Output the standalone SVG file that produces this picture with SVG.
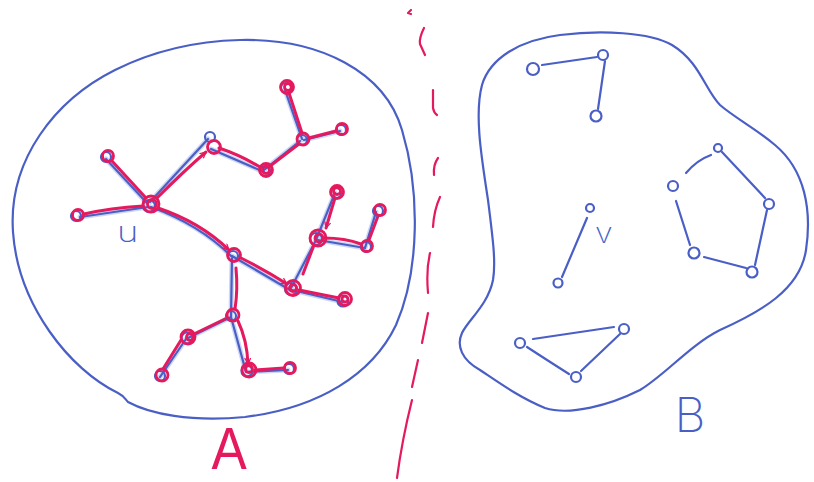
<svg xmlns="http://www.w3.org/2000/svg" width="814" height="482" viewBox="0 0 814 482">
<defs>
<style>
.outline{fill:none;stroke:#4a5fc6;stroke-width:2.2;stroke-linecap:round;stroke-linejoin:round}
.be{fill:none;stroke:#4a5fc6;stroke-width:2.2;stroke-linecap:round}
.bh{fill:none;stroke:#b9c4ee;stroke-width:5;stroke-linecap:round;opacity:.7}
.re{fill:none;stroke:#e5195e;stroke-width:3;stroke-linecap:round;stroke-linejoin:round}
.rn{fill:none;stroke:#e5195e;stroke-width:2.8}
.bn{fill:none;stroke:#4a5fc6;stroke-width:2.2}
.dash{fill:none;stroke:#e5195e;stroke-width:2.2;stroke-linecap:round;stroke-linejoin:round}
.lbl{font-family:Inter,"DejaVu Sans",sans-serif;font-weight:200;fill:#4a5fc6}
</style>
<marker id="ah" viewBox="0 0 10 10" refX="9" refY="5" markerWidth="7" markerHeight="7" orient="auto" markerUnits="userSpaceOnUse">
<path d="M1 1 L9 5 L1 9" fill="none" stroke="#e5195e" stroke-width="1.8" stroke-linecap="round"/>
</marker>
</defs>
<rect width="814" height="482" fill="#ffffff"/>

<g id="regionA">
<path class="outline" d="M240 40 C320 38 385 72 402 130 C420 190 420 270 396 325 C372 375 318 408 245 417 C190 422 150 414 128 402 C125 399 124 396 118 393 C70 370 18 305 13 232 C8 160 55 100 115 70 C155 50 200 41 240 40 Z"/>
</g>
<g id="regionB">
<path class="outline" d="M493 280 C488 305 468 320 462 333 C456 346 462 360 480 370 C498 382 520 398 545 408 C570 416 610 405 640 390 C665 375 690 345 720 330 C760 312 800 290 806 250 C812 210 805 170 775 145 C755 128 735 118 720 105 C705 90 700 62 672 45 C650 32 600 30 560 35 C520 40 490 58 482 85 C474 115 482 160 488 200 C493 240 496 262 493 280 Z"/>
</g>

<g id="connectors">
<g>
<path class="bh" d="M148 207 L80 217 M147 203 L106 159 M150 202 L208 139 M211 149 L264 172 M264 170 L300 141 M302 139 L285 90 M304 140 L340 131 M151 207 Q200 225 231 256 M232 256 L290 290 M290 290 L316 240 M316 240 L335 193 M318 240 L365 248 M365 248 L376 212 M292 290 L343 302 M232 258 L231 317 M231 317 L186 339 M186 339 L160 377 M231 317 L246 372 M246 372 L288 370"/>
<path class="be" d="M148 207 L80 217 M147 203 L106 159 M150 202 L208 139 M211 149 L264 172 M264 170 L300 141 M302 139 L285 90 M304 140 L340 131 M151 207 Q200 225 231 256 M232 256 L290 290 M290 290 L316 240 M316 240 L335 193 M318 240 L365 248 M365 248 L376 212 M292 290 L343 302 M232 258 L231 317 M231 317 L186 339 M186 339 L160 377 M231 317 L246 372 M246 372 L288 370"/>
</g>
<g>
<path class="re" d="M143 206 Q110 208 84 214"/>
<path class="re" d="M146 198 L112 161"/>
<path class="re" d="M157 198 Q185 170 206 152" marker-end="url(#ah)"/>
<path class="re" d="M219 148 Q240 155 260 167"/>
<path class="re" d="M270 166 L299 144"/>
<path class="re" d="M302 133 L289 93"/>
<path class="re" d="M309 138 L336 131"/>
<path class="re" d="M158 208 Q200 222 229 250" marker-end="url(#ah)"/>
<path class="re" d="M241 258 Q265 270 287 284" marker-end="url(#ah)"/>
<path class="re" d="M335 198 L326 228" marker-end="url(#ah)"/>
<path class="re" d="M314 245 L303 274"/>
<path class="re" d="M324 238 Q345 238 361 244"/>
<path class="re" d="M369 240 L378 216"/>
<path class="re" d="M299 290 L339 298"/>
<path class="re" d="M236 268 Q238 290 235 309"/>
<path class="re" d="M227 318 L194 334"/>
<path class="re" d="M181 340 L163 369"/>
<path class="re" d="M238 321 Q247 340 248 364" marker-end="url(#ah)"/>
<path class="re" d="M255 370 L284 368"/>
</g>
<g>
<path class="be" d="M542 65 L597 57"/>
<path class="be" d="M605 61 L598 109"/>
<path class="be" d="M587 218 L562 277"/>
<path class="be" d="M686 173 Q697 160 711 155"/>
<path class="be" d="M722 152 L765 198"/>
<path class="be" d="M767 210 L755 265"/>
<path class="be" d="M746 268 L704 257"/>
<path class="be" d="M690 245 L676 201"/>
<path class="be" d="M533 339 L614 327"/>
<path class="be" d="M527 347 Q550 362 569 374"/>
<path class="be" d="M581 371 L620 334"/>
</g>
</g>

<g id="u"><circle class="bn" cx="149" cy="206" r="6"/><circle class="rn" cx="151" cy="204" r="8"/><circle class="rn" cx="152" cy="204" r="4.5"/></g>
<g id="a1"><circle class="bn" cx="76" cy="216" r="5"/><circle class="rn" cx="78" cy="215" r="5.5"/></g>
<g id="a2"><circle class="bn" cx="106" cy="157" r="5"/><circle class="rn" cx="108" cy="156" r="5.5"/></g>
<g id="a3"><circle class="bn" cx="210" cy="137" r="5"/><circle class="rn" cx="214" cy="147" r="6.5"/></g>
<g id="a4"><circle class="bn" cx="265" cy="171" r="5"/><circle class="rn" cx="266" cy="170" r="6.5"/><circle class="rn" cx="266" cy="170" r="3.5"/></g>
<g id="a5"><circle class="bn" cx="302" cy="140" r="5"/><circle class="rn" cx="303" cy="139" r="6"/></g>
<g id="a6"><circle class="bn" cx="286" cy="88" r="5"/><circle class="rn" cx="287" cy="87" r="6.5"/><circle class="rn" cx="288" cy="87" r="3.5"/></g>
<g id="a7"><circle class="bn" cx="341" cy="130" r="5"/><circle class="rn" cx="342" cy="129" r="5.5"/></g>
<g id="a8"><circle class="bn" cx="233" cy="256" r="5"/><circle class="rn" cx="234" cy="255" r="6.5"/></g>
<g id="a9"><circle class="bn" cx="291" cy="289" r="6"/><circle class="rn" cx="293" cy="288" r="7.5"/><circle class="rn" cx="293" cy="288" r="3.5"/></g>
<g id="a10"><circle class="bn" cx="316" cy="239" r="6"/><circle class="rn" cx="318" cy="238" r="8"/><circle class="rn" cx="319" cy="238" r="4"/></g>
<g id="a11"><circle class="bn" cx="336" cy="193" r="5"/><circle class="rn" cx="337" cy="192" r="6.5"/><circle class="rn" cx="337" cy="191" r="3.5"/></g>
<g id="a12"><circle class="bn" cx="366" cy="247" r="5"/><circle class="rn" cx="367" cy="246" r="5.5"/></g>
<g id="a13"><circle class="bn" cx="378" cy="211" r="5"/><circle class="rn" cx="380" cy="210" r="5.5"/></g>
<g id="a14"><circle class="bn" cx="343" cy="301" r="5.5"/><circle class="rn" cx="345" cy="299" r="6.5"/><circle class="rn" cx="345" cy="299" r="3"/></g>
<g id="a15"><circle class="bn" cx="231" cy="316" r="5"/><circle class="rn" cx="233" cy="315" r="6"/></g>
<g id="a16"><circle class="bn" cx="187" cy="338" r="5.5"/><circle class="rn" cx="188" cy="337" r="7"/><circle class="rn" cx="190" cy="337" r="3.5"/></g>
<g id="a17"><circle class="bn" cx="160" cy="376" r="5"/><circle class="rn" cx="162" cy="375" r="6"/></g>
<g id="a18"><circle class="bn" cx="247" cy="371" r="5.5"/><circle class="rn" cx="249" cy="370" r="7"/><circle class="rn" cx="249" cy="369" r="3.5"/></g>
<g id="a19"><circle class="bn" cx="289" cy="369" r="5"/><circle class="rn" cx="290" cy="368" r="5.5"/></g>

<g id="b1"><circle class="bn" cx="533" cy="69" r="6"/></g>
<g id="b2"><circle class="bn" cx="603" cy="55" r="5"/></g>
<g id="b3"><circle class="bn" cx="596" cy="116" r="5.5"/></g>
<g id="v"><circle class="bn" cx="590" cy="208" r="4"/></g>
<g id="b5"><circle class="bn" cx="558" cy="283" r="4.5"/></g>
<g id="p1"><circle class="bn" cx="718" cy="148" r="4"/></g>
<g id="p2"><circle class="bn" cx="673" cy="186" r="5"/></g>
<g id="p3"><circle class="bn" cx="769" cy="204" r="5"/></g>
<g id="p4"><circle class="bn" cx="694" cy="253" r="5.5"/></g>
<g id="p5"><circle class="bn" cx="752" cy="272" r="5.5"/></g>
<g id="t1"><circle class="bn" cx="520" cy="343" r="5"/></g>
<g id="t2"><circle class="bn" cx="624" cy="329" r="5"/></g>
<g id="t3"><circle class="bn" cx="576" cy="377" r="5"/></g>

<g id="separator">
<path class="dash" d="M411 10 L408 13 L411 14"/>
<path class="dash" d="M424 28 Q419 38 420 44 L425 55"/>
<path class="dash" d="M433 90 L433 108 Q434 113 437 115"/>
<path class="dash" d="M438 158 Q433 165 434 175"/>
<path class="dash" d="M440 197 Q434 210 433 227"/>
<path class="dash" d="M430 253 Q426 270 428 293"/>
<path class="dash" d="M428 313 L422 343"/>
<path class="dash" d="M418 360 L412 387"/>
<path class="dash" d="M412 400 Q402 440 397 478"/>
</g>

<text class="lbl" x="117" y="242" font-size="28" transform="translate(117 0) scale(1.3 1) translate(-117 0)">u</text>
<text class="lbl" x="595" y="243" font-size="28" transform="translate(595 0) scale(1.15 1) translate(-595 0)">v</text>
<text x="229" y="469" font-family="Liberation Sans, sans-serif" font-size="60" fill="#e5195e" text-anchor="middle" transform="translate(229 0) scale(0.88 1) translate(-229 0)">A</text>
<text x="690" y="432" font-family="Inter, DejaVu Sans, sans-serif" font-weight="200" font-size="48" fill="#4a5fc6" text-anchor="middle">B</text>
</svg>
